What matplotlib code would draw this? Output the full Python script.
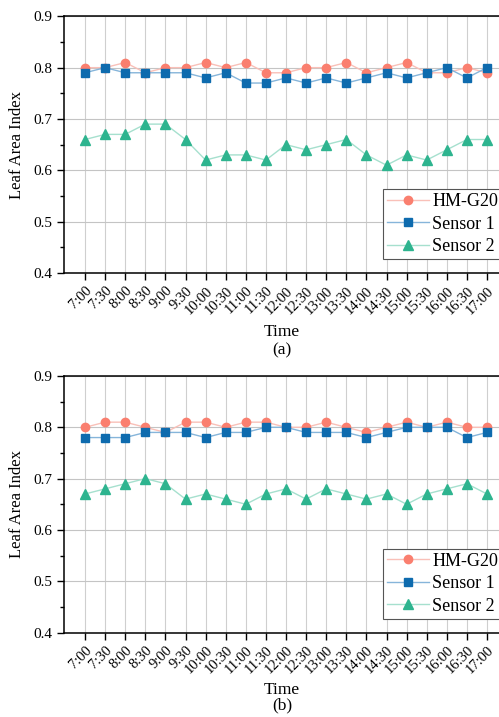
import matplotlib
matplotlib.use("Agg")
import matplotlib.pyplot as plt
from matplotlib.ticker import MultipleLocator

plt.rcParams['font.family'] = ['Liberation Serif', 'DejaVu Serif']

times = ["7:00", "7:30", "8:00", "8:30", "9:00", "9:30", "10:00", "10:30",
         "11:00", "11:30", "12:00", "12:30", "13:00", "13:30", "14:00",
         "14:30", "15:00", "15:30", "16:00", "16:30", "17:00"]

# panel (a)
hm_a = [0.80, 0.80, 0.81, 0.79, 0.80, 0.80, 0.81, 0.80, 0.81, 0.79, 0.79,
        0.80, 0.80, 0.81, 0.79, 0.80, 0.81, 0.79, 0.79, 0.80, 0.79]
s1_a = [0.79, 0.80, 0.79, 0.79, 0.79, 0.79, 0.78, 0.79, 0.77, 0.77, 0.78,
        0.77, 0.78, 0.77, 0.78, 0.79, 0.78, 0.79, 0.80, 0.78, 0.80]
s2_a = [0.66, 0.67, 0.67, 0.69, 0.69, 0.66, 0.62, 0.63, 0.63, 0.62, 0.65,
        0.64, 0.65, 0.66, 0.63, 0.61, 0.63, 0.62, 0.64, 0.66, 0.66]

# panel (b)
hm_b = [0.80, 0.81, 0.81, 0.80, 0.79, 0.81, 0.81, 0.80, 0.81, 0.81, 0.80,
        0.80, 0.81, 0.80, 0.79, 0.80, 0.81, 0.80, 0.81, 0.80, 0.80]
s1_b = [0.78, 0.78, 0.78, 0.79, 0.79, 0.79, 0.78, 0.79, 0.79, 0.80, 0.80,
        0.79, 0.79, 0.79, 0.78, 0.79, 0.80, 0.80, 0.80, 0.78, 0.79]
s2_b = [0.67, 0.68, 0.69, 0.70, 0.69, 0.66, 0.67, 0.66, 0.65, 0.67, 0.68,
        0.66, 0.68, 0.67, 0.66, 0.67, 0.65, 0.67, 0.68, 0.69, 0.67]

c_hm = "#FA7F6F"
c_s1 = "#0E6BAE"
c_s2 = "#2EB48F"
line_cols = ["#F9C0B8", "#86B5DA", "#A6E0CE"]

fig = plt.figure(figsize=(4.99, 7.17), dpi=100)

W, H = 499.0, 717.0
left_px = 64
right_px = 528
panels = [(16.3, 273.0, hm_a, s1_a, s2_a, "(a)", 332, 350),
          (376.0, 632.5, hm_b, s1_b, s2_b, "(b)", 690, 705)]

x = list(range(len(times)))

for top_px, bot_px, hm, s1, s2, cap, time_y, cap_y in panels:
    ax = fig.add_axes([left_px / W, 1 - bot_px / H, (right_px - left_px) / W,
                       (bot_px - top_px) / H])
    specs = [(hm, c_hm, "o", 6, "HM-G20", 3),
             (s1, c_s1, "s", 5.2, "Sensor 1", 4),
             (s2, c_s2, "^", 6.5, "Sensor 2", 3)]
    for (vals, mc, mk, ms, lab, z), lc in zip(specs, line_cols):
        ax.plot(x, vals, color=lc, lw=1, marker=mk, markersize=ms,
                markerfacecolor=mc, markeredgecolor=mc, label=lab, zorder=z)

    ax.set_xlim(-1.045, (right_px - 85) / 20.1)
    ax.set_ylim(0.4, 0.9)
    ax.set_xticks(x)
    ax.set_xticklabels(times, rotation=45, ha="right", rotation_mode="anchor",
                       fontsize=10.5)
    ax.yaxis.set_major_locator(MultipleLocator(0.1))
    ax.yaxis.set_minor_locator(MultipleLocator(0.05))
    ax.tick_params(axis="y", which="major", direction="out", length=5,
                   width=1, labelsize=11)
    ax.tick_params(axis="y", which="minor", direction="out", length=3, width=1)
    ax.tick_params(axis="x", which="major", direction="out", length=5,
                   width=1, pad=3)
    for s in ["left", "bottom", "top"]:
        ax.spines[s].set_linewidth(1.1)
    ax.spines["right"].set_visible(False)

    ax.grid(True, axis="x", color="#CFCFCF", lw=0.8)
    ax.grid(True, axis="y", which="major", color="#C4C4C4", lw=0.8)
    ax.set_axisbelow(True)

    ax.set_ylabel("Leaf Area Index", fontsize=12, labelpad=6)
    ax_h = bot_px - top_px
    leg = ax.legend(loc="lower left",
                    bbox_to_anchor=((383 - left_px) / (right_px - left_px),
                                    14 / ax_h),
                    fontsize=13, frameon=True,
                    fancybox=False, edgecolor="#555555", framealpha=1,
                    borderaxespad=0, handlelength=2.3, borderpad=0.22,
                    labelspacing=0.3, handletextpad=0.2)
    leg.get_frame().set_linewidth(0.8)

    fig.text(0.565, 1 - time_y / H, "Time", ha="center", va="center",
             fontsize=12.5)
    fig.text(0.565, 1 - cap_y / H, cap, ha="center", va="center",
             fontsize=12.5)

fig.savefig("out.png", dpi=100)
